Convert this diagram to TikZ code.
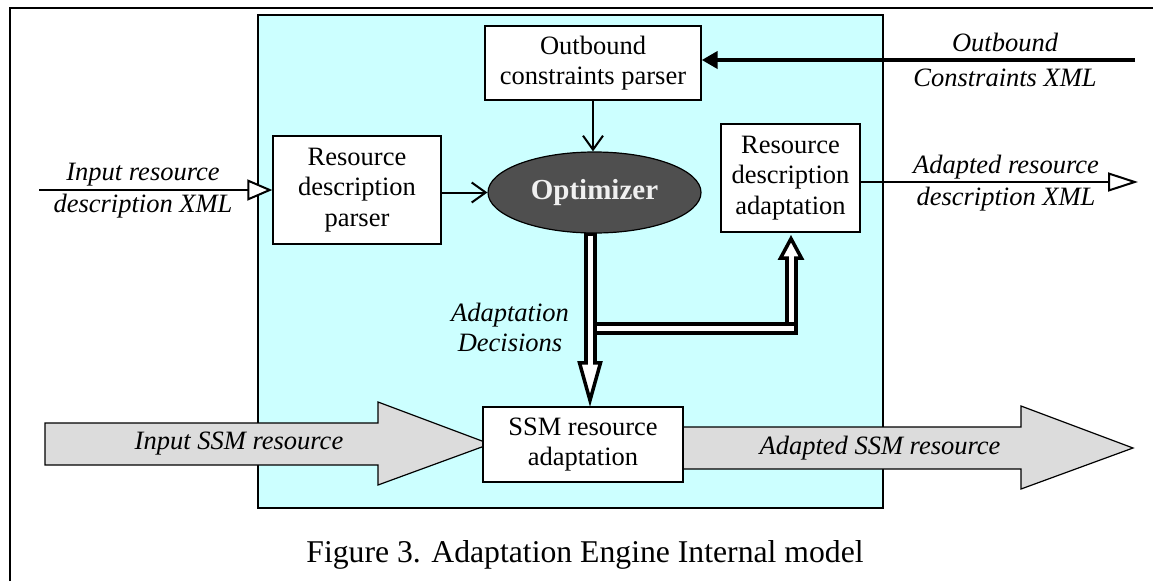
\documentclass[tikz,border=0pt]{standalone}
\usepackage{fontspec}
\setmainfont{Liberation Serif}
\usetikzlibrary{arrows.meta,calc,shapes.geometric}
\definecolor{cyanbg}{HTML}{CCFFFF}
\definecolor{arrowgray}{HTML}{DCDCDC}
\definecolor{optfill}{HTML}{4F4F4F}
\begin{document}
\begin{tikzpicture}[x=1pt,y=-1pt,
  box/.style={draw, fill=white, line width=1.4pt, inner sep=0pt, align=center,
              font=\fontsize{26.5}{30.5}\selectfont},
  lbl/.style={align=center, inner sep=0pt, font=\fontsize{26.5}{31}\selectfont\itshape},
  conn/.style={line width=2pt},
  bigarrow/.style={draw, line width=1.2pt, fill=arrowgray, line join=miter},
  dbo/.style={line width=13pt, black},
  dbi/.style={line width=5pt, white},
  headst/.style={draw=black, fill=white, line width=3.5pt, line join=miter}]
\useasboundingbox (0,0) rectangle (1153,581);

% outer frame (clipped)
\draw[line width=2pt] (10,581) -- (10,8) -- (1153,8);

% engine area
\node[draw, fill=cyanbg, line width=1.2pt, minimum width=625pt, minimum height=493pt, inner sep=0pt] (eng) at (570.5,261.5) {};

% boxes
\node[box, minimum width=216pt, minimum height=74pt] (ob) at (593,63) {Outbound\\constraints parser};
\node[box, minimum width=168pt, minimum height=108pt] (rdp) at (357,190) {Resource\\description\\parser};
\node[box, minimum width=139pt, minimum height=108pt] (rda) at (790.5,178) {Resource\\description\\adaptation};
\node[ellipse, draw, fill=optfill, line width=1.2pt, minimum width=213pt, minimum height=81pt, inner sep=0pt,
      text=white!94!black, font=\fontsize{29}{33}\selectfont\bfseries] (opt) at (594.5,192.5) {Optimizer};

% big gray arrows
\draw[bigarrow] (45,423) -- (378,423) -- (378,402) -- (490,444) -- (378,485) -- (378,465) -- (45,465) -- cycle;
\draw[bigarrow] (683,427) -- (1021,427) -- (1021,406) -- (1133,448) -- (1021,489) -- (1021,469) -- (683,469) -- cycle;
\node[box, minimum width=200pt, minimum height=75pt] (ssm) at (583,444.5) {SSM resource\\adaptation};
\node[lbl] (inssm) at (239,444) {Input SSM resource};
\node[lbl] (outssm) at (880,448) {Adapted SSM resource};

% thin connectors
\coordinate (inS) at (39,190);
\draw[conn, -{Triangle[open, fill=white, length=25pt, width=21pt]}] (inS) -- (rdp.west);
\node[lbl, font=\fontsize{26.5}{32}\selectfont\itshape] (inlbl) at (143,191) {Input resource\\description XML};

\coordinate (outE) at (1138,182);
\draw[conn, -{Triangle[open, fill=white, length=30pt, width=19pt]}] ([yshift=-4pt]rda.east) -- (outE);
\node[lbl, font=\fontsize{26.5}{32}\selectfont\itshape] (outlbl) at (1006,183) {Adapted resource\\description XML};

\coordinate (obS) at (1135,60);
\draw[line width=4.5pt, -{Triangle[length=16pt, width=17pt]}] (obS) -- ([yshift=3pt]ob.east);
\node[lbl, font=\fontsize{26.5}{35}\selectfont\itshape] (oblbl) at (1005,60) {Outbound\\Constraints XML};

\draw[conn, -{Straight Barb[length=14pt, width=20pt, line width=2pt]}] (rdp.east |- opt.west) -- (opt.west);
\draw[conn, -{Straight Barb[length=14pt, width=20pt, line width=2pt]}] (ob.south) -- (ob.south |- opt.north);

% double-line arrows (adaptation decisions)
\coordinate (m0) at ([xshift=-4.5pt]opt.south);
\coordinate (m1) at (m0 |- ssm.north);
\coordinate (mh) at ($(m1)+(0,-43.5)$);
\coordinate (u1) at ([xshift=0.5pt]rda.south);
\coordinate (uh) at ($(u1)+(0,25.5)$);
\coordinate (bj) at ($(m0)+(0,95)$);
\coordinate (bk) at (u1 |- bj);

\draw[dbo] (uh) -- (bk);
\draw[dbi] (uh) -- (bk);
\draw[dbo] (bj) -- ($(bk)+(6.5,0)$);
\draw[dbi] (bj) -- ($(bk)+(2.5,0)$);
\draw[dbo] ([yshift=1pt]m0) -- (mh);
\draw[dbi] ([yshift=-2pt]m0) -- (mh);
\draw[headst] ($(mh)+(-10.5,0)$) -- ($(mh)+(10.5,0)$) -- ($(m1)+(0,-6)$) -- cycle;
\draw[headst] ($(uh)+(-10.5,0)$) -- ($(uh)+(10.5,0)$) -- ($(u1)+(0,6)$) -- cycle;
\draw[dbi] ($(mh)+(0,-3)$) -- ($(mh)+(0,5)$);
\draw[dbi] ($(uh)+(0,3)$) -- ($(uh)+(0,-5)$);
\node[lbl, font=\fontsize{26.5}{30}\selectfont\itshape] (declbl) at (510,327.5) {Adaptation\\Decisions};

% caption
\node[anchor=base, inner sep=0pt, font=\fontsize{31.7}{36}\selectfont] (cap) at (585,562) {Figure 3. Adaptation Engine Internal model};
\end{tikzpicture}
\end{document}
